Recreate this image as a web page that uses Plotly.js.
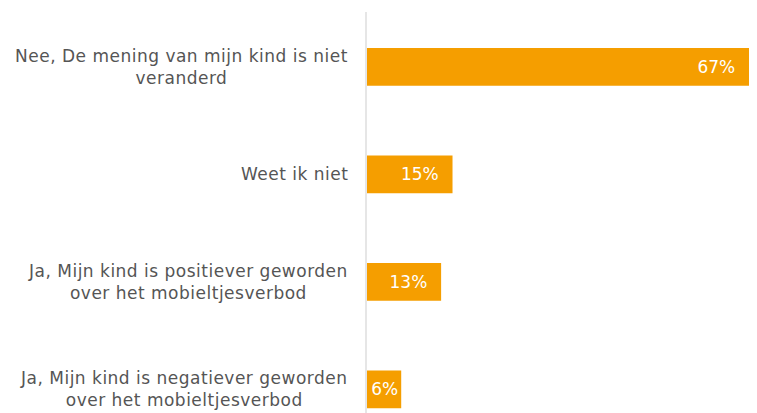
<!DOCTYPE html>
<html>
<head>
<meta charset="utf-8">
<script src="https://cdn.plot.ly/plotly-3.0.1.min.js"></script>
<style>html,body{margin:0;padding:0;background:#fff;}#chart{width:757px;height:413px;}
.annotation-text{letter-spacing:0.5px;}</style>
</head>
<body>
<div id="chart"></div>
<script>
var categories = [
  "Nee, De mening van mijn kind is niet<br>veranderd",
  "Weet ik niet",
  "Ja, Mijn kind is positiever geworden<br>over het mobieltjesverbod",
  "Ja, Mijn kind is negatiever geworden<br>over het mobieltjesverbod"
];
var values = [67, 15, 13, 6];
var ids = ["c0", "c1", "c2", "c3"];

var trace = {
  type: "bar",
  orientation: "h",
  y: ids,
  x: values,
  marker: {color: "#F59E00"},
  texttemplate: ["%{x}%\u00a0\u00a0", "%{x}%\u00a0\u00a0", "%{x}%\u00a0\u00a0", "%{x}%"],
  textposition: "inside",
  insidetextanchor: "end",
  textangle: 0,
  constraintext: "none",
  textfont: {color: "#ffffff", size: 17, family: "DejaVu Sans, sans-serif"},
  hoverinfo: "none"
};

var annotations = categories.map(function (c, i) {
  return {
    xref: "paper", yref: "y", x: 0, y: ids[i],
    xanchor: "right", yanchor: "middle", xshift: -17,
    text: c, showarrow: false, align: "center",
    font: {family: "DejaVu Sans, sans-serif", size: 17, color: "#555555"}
  };
});

var layout = {
  width: 757, height: 413,
  margin: {l: 367, r: 8, t: 12, b: 0, pad: 0},
  paper_bgcolor: "#ffffff", plot_bgcolor: "#ffffff",
  bargap: 0.65,
  showlegend: false,
  uniformtext: {minsize: 17, mode: "show"},
  xaxis: {range: [0, 67], visible: false, fixedrange: true},
  yaxis: {
    type: "category", categoryorder: "array", categoryarray: ids,
    range: [3.22, -0.51],
    showticklabels: false, ticks: "",
    showline: true, linecolor: "#e6e6e6", linewidth: 2,
    showgrid: false, zeroline: false
  },
  annotations: annotations
};

Plotly.newPlot("chart", [trace], layout, {displayModeBar: false, staticPlot: true});
</script>
</body>
</html>
